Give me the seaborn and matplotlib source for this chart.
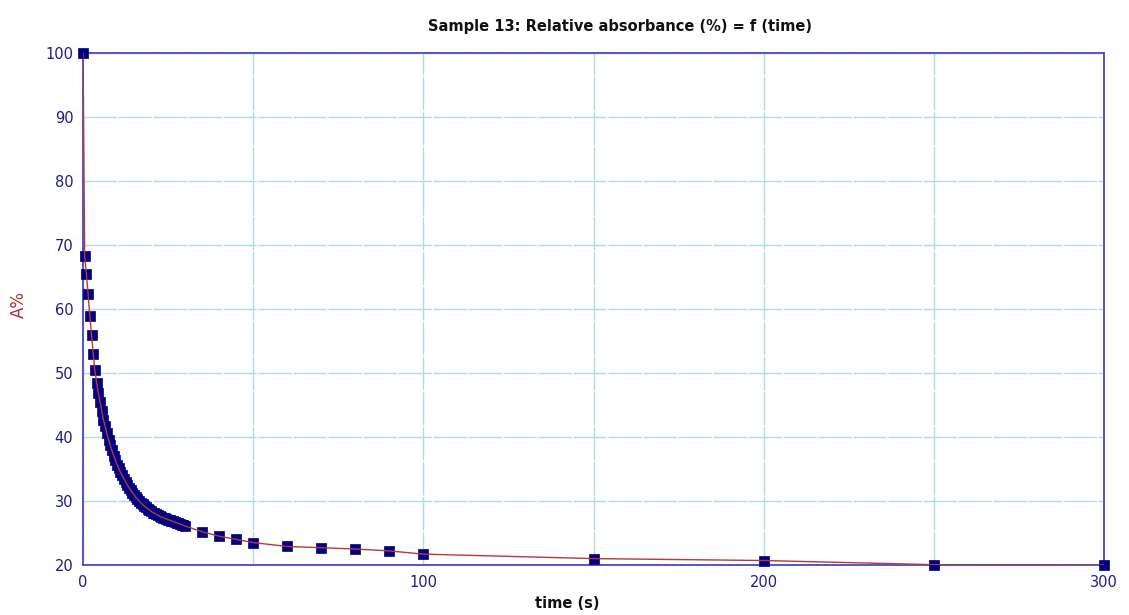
import matplotlib
matplotlib.use("Agg")
import matplotlib.pyplot as plt
import seaborn as sns
import pandas as pd

# ---- data ----
time_dense = [0, 0.5, 1.0, 1.5, 2.0, 2.5, 3.0, 3.5, 4.0, 4.5, 5.0, 5.5, 6.0, 6.5, 7.0,
              7.5, 8.0, 8.5, 9.0, 9.5, 10.0, 10.5, 11.0, 11.5, 12.0, 12.5, 13.0, 13.5,
              14.0, 14.5, 15.0, 15.5, 16.0, 16.5, 17.0, 17.5, 18.0, 18.5, 19.0, 19.5,
              20.0, 20.5, 21.0, 21.5, 22.0, 22.5, 23.0, 23.5, 24.0, 24.5, 25.0, 25.5,
              26.0, 26.5, 27.0, 27.5, 28.0, 28.5, 29.0, 29.5, 30.0]
abs_dense = [100.0, 68.3, 65.5, 62.3, 58.9, 56.0, 53.0, 50.4, 48.5, 46.9, 45.5, 44.1,
             42.7, 41.7, 40.6, 39.6, 38.7, 37.9, 37.1, 36.4, 35.7, 35.1, 34.5, 34.0,
             33.5, 33.0, 32.5, 32.1, 31.7, 31.3, 31.0, 30.6, 30.3, 30.0, 29.7, 29.5,
             29.2, 29.0, 28.8, 28.6, 28.4, 28.2, 28.1, 27.9, 27.8, 27.6, 27.5, 27.4,
             27.3, 27.2, 27.1, 27.0, 26.9, 26.8, 26.7, 26.6, 26.5, 26.4, 26.3, 26.2,
             26.1]
time_sparse = [35, 40, 45, 50, 60, 70, 80, 90, 100, 150, 200, 250, 300]
abs_sparse = [25.2, 24.5, 24.0, 23.5, 22.9, 22.7, 22.5, 22.2, 21.7, 21.0, 20.7, 20.05, 20.0]

x_ticks = [0, 100, 200, 300]
x_minor = [50, 150, 250]
y_ticks = [20, 30, 40, 50, 60, 70, 80, 90, 100]

title = "Sample 13: Relative absorbance (%) = f (time)"
xlabel = "time (s)"
ylabel = "A%"

df = pd.DataFrame({"time": time_dense + time_sparse,
                   "A": abs_dense + abs_sparse})

sns.set_style("white")
plt.rcParams["font.family"] = ["DejaVu Sans"]

fig = plt.figure(figsize=(11.29, 6.15), dpi=100)
ax = fig.add_axes([83 / 1129, 1 - 565 / 615, (1104 - 83) / 1129, (565 - 53) / 615])

spine_col = "#4848c8"
tick_col = "#1c1c8c"

sns.scatterplot(data=df, x="time", y="A", marker="s", s=50, color="#000080",
                edgecolor="#000080", linewidth=0.5, ax=ax, zorder=3, clip_on=False)
sns.lineplot(data=df, x="time", y="A", color="#b83838", linewidth=1.0,
             ax=ax, zorder=4, sort=False, estimator=None)

ax.set_xlim(0, 300)
ax.set_ylim(20, 100)
ax.set_xticks(x_ticks)
ax.set_xticks(x_minor, minor=True)
ax.set_yticks(y_ticks)
ax.grid(True, which="both", color="#b0dae4", linewidth=1.0, linestyle=(0, (24, 1.2)))
ax.set_axisbelow(True)

for s in ax.spines.values():
    s.set_color(spine_col)
    s.set_linewidth(1.3)
    s.set_visible(True)
    s.set_zorder(2)

ax.tick_params(axis="both", which="major", direction="out", length=5, width=1,
               color=spine_col, labelcolor=tick_col, labelsize=10.5, pad=2)
ax.tick_params(axis="x", which="minor", direction="out", length=5, width=1,
               color=spine_col)

ax.set_xlabel("")
ax.set_ylabel("")
fig.text(620 / 1129, 1 - 27 / 615, title, ha="center", va="center",
         fontsize=10.5, fontweight="bold", color="#111111")
fig.text(567 / 1129, 1 - 603 / 615, xlabel, ha="center", va="center",
         fontsize=10.5, fontweight="bold", color="#111111")
fig.text(19 / 1129, 1 - 305 / 615, ylabel, ha="center", va="center",
         fontsize=12, color="#a83030", rotation=90)

fig.savefig("out.png", dpi=100, facecolor="white")
